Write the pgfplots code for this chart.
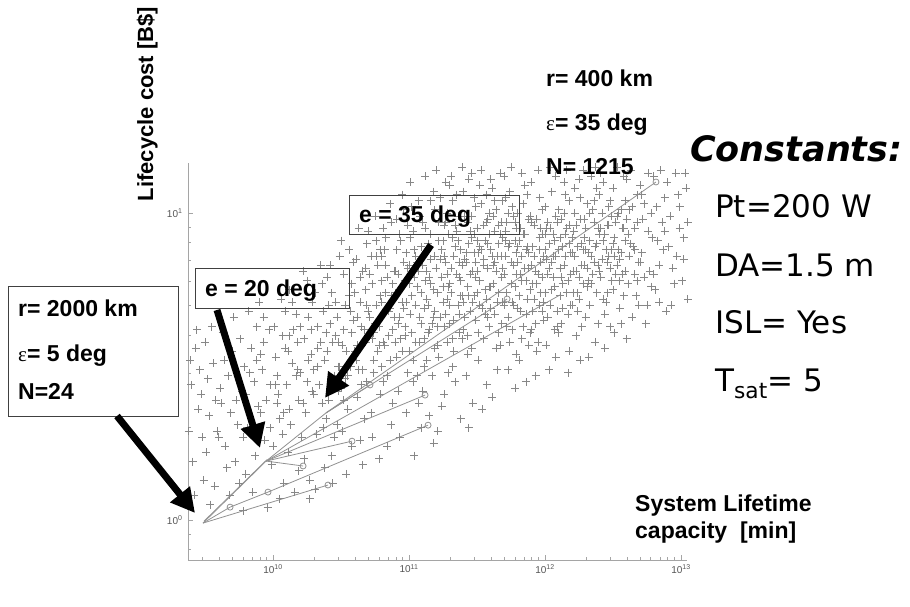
\documentclass[border=0pt]{standalone}
\usepackage{fontspec}
\setmainfont{Liberation Sans}
\newfontfamily\verd{DejaVu Sans}
\newfontfamily\greek{Liberation Serif}
\usepackage{pgfplots}
\usepackage{pgfplotstable}
\pgfplotsset{compat=1.18}
\usetikzlibrary{arrows.meta}

\definecolor{cloud}{RGB}{135,135,135}
\definecolor{fan}{RGB}{145,145,145}
\definecolor{axgray}{RGB}{165,165,165}
\definecolor{ticktxt}{RGB}{85,85,85}

% cloud of designs, stored as log10(capacity) and log10(cost)
\pgfplotstableread[row sep=\\]{
lx ly\\
9.38 0.29\\ 9.42 0.08\\ 9.39 0.52\\ 9.47 0.41\\ 9.41 0.19\\ 9.44 0.62\\ 9.48 0.27\\ 9.45 0.36\\ 9.40 0.44\\ 9.49 0.13\\ 9.43 0.56\\ 9.46 0.49\\
9.53 0.34\\ 9.50 0.58\\ 9.57 0.11\\ 9.52 0.46\\ 9.59 0.29\\ 9.55 0.63\\ 9.51 0.22\\ 9.58 0.39\\ 9.56 0.51\\ 9.54 0.05\\
9.61 0.43\\ 9.66 0.17\\ 9.63 0.61\\ 9.69 0.35\\ 9.60 0.27\\ 9.64 0.52\\ 9.68 0.08\\ 9.62 0.38\\ 9.67 0.47\\ 9.65 0.24\\
9.74 0.31\\ 9.70 0.55\\ 9.78 0.03\\ 9.72 0.19\\ 9.77 0.42\\ 9.71 0.66\\ 9.79 0.50\\ 9.75 0.12\\ 9.73 0.39\\ 9.76 0.59\\ 9.78 0.27\\
9.83 0.48\\ 9.81 0.30\\ 9.88 0.63\\ 9.85 0.09\\ 9.80 0.41\\ 9.87 0.21\\ 9.84 0.56\\ 9.89 0.37\\ 9.82 0.68\\ 9.86 0.45\\ 9.80 0.15\\ 9.88 0.52\\
9.91 0.35\\ 9.96 0.04\\ 9.93 0.58\\ 9.98 0.44\\ 9.90 0.71\\ 9.94 0.26\\ 9.97 0.62\\ 9.92 0.49\\ 9.99 0.18\\ 9.95 0.39\\ 9.91 0.54\\ 9.98 0.30\\ 9.93 0.66\\
10.03 0.47\\ 10.08 0.12\\ 10.01 0.63\\ 10.05 0.33\\ 10.09 0.56\\ 10.00 0.24\\ 10.06 0.72\\ 10.04 0.41\\ 10.07 0.28\\ 10.02 0.53\\ 10.09 0.68\\ 10.05 0.07\\ 10.03 0.38\\ 10.07 0.60\\
10.14 0.51\\ 10.11 0.22\\ 10.17 0.67\\ 10.19 0.39\\ 10.12 0.75\\ 10.16 0.09\\ 10.10 0.44\\ 10.18 0.58\\ 10.13 0.31\\ 10.15 0.62\\ 10.19 0.16\\ 10.11 0.55\\ 10.17 0.47\\ 10.14 0.71\\ 10.12 0.36\\
10.23 0.59\\ 10.27 0.13\\ 10.20 0.48\\ 10.25 0.78\\ 10.29 0.42\\ 10.21 0.27\\ 10.26 0.66\\ 10.24 0.35\\ 10.28 0.54\\ 10.22 0.81\\ 10.27 0.07\\ 10.20 0.63\\ 10.25 0.45\\ 10.29 0.71\\ 10.23 0.20\\ 10.26 0.52\\
10.31 0.74\\ 10.36 0.38\\ 10.33 0.56\\ 10.38 0.17\\ 10.30 0.49\\ 10.35 0.83\\ 10.39 0.61\\ 10.32 0.28\\ 10.37 0.68\\ 10.34 0.44\\ 10.31 0.10\\ 10.38 0.52\\ 10.36 0.77\\ 10.33 0.63\\ 10.39 0.33\\ 10.35 0.58\\ 10.30 0.41\\
10.42 0.64\\ 10.47 0.31\\ 10.40 0.79\\ 10.45 0.47\\ 10.49 0.86\\ 10.43 0.21\\ 10.48 0.58\\ 10.41 0.39\\ 10.46 0.71\\ 10.44 0.12\\ 10.49 0.50\\ 10.42 0.83\\ 10.47 0.66\\ 10.40 0.55\\ 10.45 0.27\\ 10.48 0.42\\ 10.43 0.74\\ 10.46 0.60\\
10.53 0.70\\ 10.58 0.24\\ 10.51 0.57\\ 10.56 0.88\\ 10.50 0.43\\ 10.54 0.15\\ 10.59 0.65\\ 10.52 0.80\\ 10.57 0.50\\ 10.55 0.36\\ 10.50 0.91\\ 10.58 0.61\\ 10.53 0.46\\ 10.56 0.73\\ 10.51 0.29\\ 10.59 0.84\\ 10.54 0.55\\ 10.57 0.68\\ 10.52 0.39\\
10.64 0.79\\ 10.61 0.52\\ 10.67 0.33\\ 10.69 0.90\\ 10.62 0.66\\ 10.66 0.18\\ 10.60 0.74\\ 10.68 0.58\\ 10.63 0.95\\ 10.65 0.44\\ 10.69 0.70\\ 10.61 0.85\\ 10.67 0.62\\ 10.64 0.26\\ 10.60 0.55\\ 10.66 0.81\\ 10.62 0.40\\ 10.68 0.75\\ 10.65 0.63\\ 10.63 0.49\\
10.72 0.86\\ 10.77 0.55\\ 10.70 0.68\\ 10.75 0.99\\ 10.79 0.41\\ 10.73 0.77\\ 10.78 0.20\\ 10.71 0.60\\ 10.76 0.91\\ 10.74 0.48\\ 10.79 0.73\\ 10.72 0.35\\ 10.77 0.83\\ 10.70 0.94\\ 10.75 0.64\\ 10.78 0.57\\ 10.73 0.27\\ 10.76 0.70\\ 10.71 0.80\\ 10.74 0.61\\ 10.79 0.88\\
10.83 0.92\\ 10.88 0.62\\ 10.81 0.45\\ 10.86 1.03\\ 10.80 0.71\\ 10.84 0.24\\ 10.89 0.81\\ 10.82 0.57\\ 10.87 0.97\\ 10.85 0.68\\ 10.80 0.86\\ 10.88 0.38\\ 10.83 0.74\\ 10.86 0.52\\ 10.81 0.95\\ 10.89 0.66\\ 10.84 0.79\\ 10.87 0.31\\ 10.82 0.88\\ 10.85 0.60\\ 10.88 0.77\\ 10.80 0.50\\
10.91 0.98\\ 10.96 0.69\\ 10.93 0.27\\ 10.98 0.87\\ 10.90 0.58\\ 10.95 1.06\\ 10.99 0.48\\ 10.92 0.80\\ 10.97 0.63\\ 10.94 0.91\\ 10.90 0.74\\ 10.98 0.35\\ 10.93 0.66\\ 10.96 0.84\\ 10.91 0.53\\ 10.99 0.96\\ 10.95 0.71\\ 10.92 0.42\\ 10.97 0.78\\ 10.94 0.59\\ 10.99 0.82\\ 10.96 1.01\\ 10.91 0.88\\
11.02 0.73\\ 11.07 1.04\\ 11.00 0.55\\ 11.05 0.86\\ 11.09 0.30\\ 11.03 0.94\\ 11.08 0.66\\ 11.01 1.10\\ 11.06 0.47\\ 11.04 0.79\\ 11.09 0.89\\ 11.02 0.61\\ 11.07 0.38\\ 11.00 0.83\\ 11.05 0.70\\ 11.08 0.99\\ 11.03 0.52\\ 11.06 0.76\\ 11.01 0.92\\ 11.04 0.21\\ 11.09 0.64\\ 11.07 0.81\\ 11.02 1.02\\ 11.05 0.58\\
11.13 0.81\\ 11.18 1.07\\ 11.11 0.59\\ 11.16 0.93\\ 11.10 0.42\\ 11.14 0.70\\ 11.19 0.86\\ 11.12 1.12\\ 11.17 0.64\\ 11.15 0.34\\ 11.10 0.97\\ 11.18 0.75\\ 11.13 0.52\\ 11.16 0.85\\ 11.11 0.69\\ 11.19 1.01\\ 11.14 0.90\\ 11.17 0.47\\ 11.12 0.78\\ 11.15 0.62\\ 11.18 0.25\\ 11.10 0.83\\ 11.16 1.04\\ 11.13 0.72\\ 11.19 0.56\\
11.24 0.88\\ 11.21 0.63\\ 11.27 1.10\\ 11.29 0.76\\ 11.22 0.97\\ 11.26 0.41\\ 11.20 0.82\\ 11.28 0.58\\ 11.23 1.05\\ 11.25 0.71\\ 11.29 0.93\\ 11.21 0.29\\ 11.27 0.67\\ 11.24 0.79\\ 11.20 1.14\\ 11.26 0.86\\ 11.22 0.53\\ 11.28 1.00\\ 11.25 0.91\\ 11.23 0.66\\ 11.29 0.48\\ 11.27 0.84\\ 11.21 0.74\\ 11.26 0.96\\ 11.24 0.37\\ 11.28 0.72\\
11.32 0.92\\ 11.37 0.67\\ 11.30 1.09\\ 11.35 0.80\\ 11.39 1.15\\ 11.33 0.55\\ 11.38 0.88\\ 11.31 0.74\\ 11.36 0.99\\ 11.34 0.45\\ 11.39 0.83\\ 11.32 1.04\\ 11.37 0.61\\ 11.30 0.77\\ 11.35 0.94\\ 11.38 0.33\\ 11.33 0.86\\ 11.36 0.70\\ 11.31 1.12\\ 11.34 0.96\\ 11.39 0.59\\ 11.37 0.79\\ 11.32 0.50\\ 11.35 1.06\\ 11.38 0.73\\ 11.30 0.64\\
11.43 0.97\\ 11.48 0.73\\ 11.41 0.85\\ 11.46 1.13\\ 11.40 0.62\\ 11.44 0.90\\ 11.49 1.02\\ 11.42 0.47\\ 11.47 0.81\\ 11.45 0.68\\ 11.40 1.07\\ 11.48 0.93\\ 11.43 0.76\\ 11.46 0.56\\ 11.41 0.99\\ 11.49 0.65\\ 11.44 1.11\\ 11.47 0.38\\ 11.42 0.87\\ 11.45 0.80\\ 11.48 1.05\\ 11.40 0.71\\ 11.46 0.92\\ 11.43 0.60\\ 11.49 0.84\\ 11.44 0.30\\
11.52 0.89\\ 11.57 1.06\\ 11.50 0.74\\ 11.55 0.96\\ 11.59 0.63\\ 11.53 1.14\\ 11.58 0.82\\ 11.51 0.52\\ 11.56 0.91\\ 11.54 0.69\\ 11.59 1.00\\ 11.52 0.78\\ 11.57 0.44\\ 11.50 0.95\\ 11.55 0.85\\ 11.58 0.66\\ 11.53 1.03\\ 11.56 0.75\\ 11.51 0.87\\ 11.54 0.36\\ 11.59 0.93\\ 11.57 0.72\\ 11.52 1.09\\ 11.55 0.59\\ 11.58 0.98\\ 11.50 0.81\\
11.63 0.94\\ 11.68 0.79\\ 11.61 1.08\\ 11.66 0.61\\ 11.60 0.88\\ 11.64 1.01\\ 11.69 0.71\\ 11.62 0.83\\ 11.67 1.13\\ 11.65 0.49\\ 11.60 0.76\\ 11.68 0.97\\ 11.63 0.67\\ 11.66 0.90\\ 11.61 0.40\\ 11.69 1.04\\ 11.64 0.81\\ 11.67 0.57\\ 11.62 0.99\\ 11.65 0.86\\ 11.68 0.64\\ 11.60 1.11\\ 11.66 0.74\\ 11.63 0.84\\ 11.69 0.92\\
11.71 0.86\\ 11.76 1.02\\ 11.73 0.66\\ 11.78 0.91\\ 11.70 1.12\\ 11.75 0.77\\ 11.79 0.54\\ 11.72 0.97\\ 11.77 0.83\\ 11.74 1.07\\ 11.70 0.70\\ 11.78 0.43\\ 11.73 0.89\\ 11.76 0.62\\ 11.71 0.94\\ 11.79 0.80\\ 11.75 1.15\\ 11.72 0.74\\ 11.77 0.99\\ 11.74 0.58\\ 11.79 0.87\\ 11.76 0.71\\ 11.71 1.05\\ 11.73 0.49\\ 11.78 0.76\\
11.82 0.95\\ 11.87 0.72\\ 11.80 0.84\\ 11.85 1.09\\ 11.89 0.61\\ 11.83 0.78\\ 11.88 0.98\\ 11.81 0.52\\ 11.86 0.88\\ 11.84 1.03\\ 11.80 0.69\\ 11.88 0.82\\ 11.83 1.13\\ 11.86 0.45\\ 11.81 0.91\\ 11.89 0.75\\ 11.84 0.63\\ 11.87 1.06\\ 11.82 0.80\\ 11.85 0.93\\ 11.88 0.57\\ 11.80 1.00\\ 11.86 0.67\\ 11.83 0.86\\
11.93 0.81\\ 11.98 1.01\\ 11.91 0.68\\ 11.96 0.92\\ 11.90 1.10\\ 11.94 0.55\\ 11.99 0.86\\ 11.92 0.96\\ 11.97 0.74\\ 11.95 1.14\\ 11.90 0.62\\ 11.98 0.79\\ 11.93 0.47\\ 11.96 1.05\\ 11.91 0.89\\ 11.99 0.65\\ 11.94 0.98\\ 11.97 0.84\\ 11.92 0.72\\ 11.95 0.58\\ 11.98 0.93\\ 11.90 0.83\\ 11.96 0.70\\
12.02 0.97\\ 12.07 0.76\\ 12.00 0.88\\ 12.05 1.07\\ 12.09 0.63\\ 12.03 0.82\\ 12.08 1.12\\ 12.01 0.57\\ 12.06 0.93\\ 12.04 0.70\\ 12.00 1.02\\ 12.08 0.86\\ 12.03 0.49\\ 12.06 0.79\\ 12.01 0.95\\ 12.09 0.68\\ 12.04 1.15\\ 12.07 0.91\\ 12.02 0.66\\ 12.05 0.84\\ 12.08 0.53\\ 12.00 0.74\\
12.13 0.89\\ 12.18 1.04\\ 12.11 0.73\\ 12.16 0.95\\ 12.10 0.61\\ 12.14 1.10\\ 12.19 0.80\\ 12.12 0.98\\ 12.17 0.67\\ 12.15 0.86\\ 12.10 1.01\\ 12.18 0.55\\ 12.13 0.77\\ 12.16 1.14\\ 12.11 0.92\\ 12.19 0.70\\ 12.14 0.83\\ 12.17 0.48\\ 12.12 0.64\\ 12.15 1.06\\ 12.18 0.90\\
12.22 1.00\\ 12.27 0.83\\ 12.20 0.70\\ 12.25 1.11\\ 12.29 0.92\\ 12.23 0.60\\ 12.28 0.77\\ 12.21 0.94\\ 12.26 1.05\\ 12.24 0.68\\ 12.20 0.87\\ 12.28 1.14\\ 12.23 0.81\\ 12.26 0.52\\ 12.21 0.74\\ 12.29 0.98\\ 12.24 0.89\\ 12.27 0.63\\ 12.22 1.08\\ 12.25 0.79\\
12.33 0.91\\ 12.38 0.74\\ 12.31 1.03\\ 12.36 0.84\\ 12.30 0.66\\ 12.34 1.12\\ 12.39 0.95\\ 12.32 0.78\\ 12.37 0.58\\ 12.35 1.01\\ 12.30 0.88\\ 12.38 1.08\\ 12.33 0.70\\ 12.36 0.97\\ 12.31 0.82\\ 12.39 0.64\\ 12.34 0.86\\ 12.37 1.15\\ 12.32 0.53\\
12.42 0.85\\ 12.47 1.02\\ 12.40 0.93\\ 12.45 0.71\\ 12.49 0.88\\ 12.43 1.10\\ 12.48 0.63\\ 12.41 0.79\\ 12.46 0.96\\ 12.44 0.56\\ 12.40 1.06\\ 12.48 0.82\\ 12.43 0.91\\ 12.46 0.74\\ 12.41 1.13\\ 12.49 0.99\\ 12.44 0.67\\ 12.47 0.86\\
12.52 0.97\\ 12.57 0.80\\ 12.50 1.08\\ 12.55 0.69\\ 12.59 0.91\\ 12.53 0.83\\ 12.58 1.12\\ 12.51 0.61\\ 12.56 1.01\\ 12.54 0.88\\ 12.50 0.75\\ 12.58 0.95\\ 12.53 1.15\\ 12.56 0.64\\ 12.51 0.86\\ 12.59 1.04\\ 12.55 0.78\\
12.63 0.90\\ 12.68 1.06\\ 12.61 0.77\\ 12.66 0.95\\ 12.60 1.11\\ 12.64 0.66\\ 12.69 0.84\\ 12.62 1.01\\ 12.67 0.73\\ 12.65 0.89\\ 12.60 0.59\\ 12.68 0.97\\ 12.63 1.14\\ 12.66 0.80\\ 12.61 0.93\\ 12.69 0.70\\
12.72 0.98\\ 12.77 0.81\\ 12.70 1.09\\ 12.75 0.70\\ 12.79 0.92\\ 12.73 1.03\\ 12.78 0.76\\ 12.71 0.87\\ 12.76 1.13\\ 12.74 0.64\\ 12.70 0.84\\ 12.78 1.00\\ 12.73 0.79\\ 12.76 0.94\\ 12.71 1.06\\
12.83 0.91\\ 12.88 1.05\\ 12.81 0.75\\ 12.86 0.97\\ 12.80 1.12\\ 12.84 0.83\\ 12.89 0.68\\ 12.82 1.02\\ 12.87 0.88\\ 12.85 1.14\\ 12.80 0.80\\ 12.88 0.94\\ 12.84 0.71\\
12.92 0.99\\ 12.97 0.86\\ 12.90 1.10\\ 12.95 0.77\\ 12.99 0.95\\ 12.93 0.70\\ 12.98 1.06\\ 12.91 0.89\\ 12.96 1.13\\ 12.94 0.82\\ 12.99 1.02\\
13.02 0.92\\ 13.04 1.08\\ 13.01 0.78\\ 13.05 0.97\\ 13.03 1.13\\ 13.02 0.85\\ 13.05 0.72\\
}\cloud

% the denser core of the cloud
\pgfplotstableread[row sep=\\]{
lx ly\\
10.62 0.57\\ 10.66 0.49\\ 10.71 0.66\\ 10.69 0.45\\ 10.74 0.52\\ 10.78 0.63\\ 10.81 0.58\\ 10.84 0.47\\ 10.87 0.73\\ 10.92 0.64\\ 10.95 0.55\\ 10.98 0.71\\
11.01 0.67\\ 11.03 0.45\\ 11.06 0.84\\ 11.09 0.74\\ 11.11 0.50\\ 11.14 0.61\\ 11.16 0.77\\ 11.19 0.68\\ 11.21 0.57\\ 11.23 0.85\\ 11.26 0.63\\ 11.28 0.80\\
11.30 0.70\\ 11.32 0.59\\ 11.34 0.89\\ 11.37 0.84\\ 11.39 0.73\\ 11.41 0.66\\ 11.43 0.54\\ 11.45 0.94\\ 11.47 0.71\\ 11.49 0.79\\ 11.51 0.61\\ 11.53 0.88\\
11.56 0.67\\ 11.58 0.90\\ 11.60 0.69\\ 11.62 0.77\\ 11.64 0.56\\ 11.66 0.96\\ 11.68 0.86\\ 11.70 0.80\\ 11.72 0.63\\ 11.74 0.90\\ 11.77 0.70\\ 11.79 0.95\\
11.81 0.73\\ 11.83 0.59\\ 11.85 0.82\\ 11.87 0.89\\ 11.89 0.99\\ 11.91 0.77\\ 11.93 0.64\\ 11.95 0.80\\ 11.97 0.95\\ 11.99 0.71\\ 12.01 0.85\\ 12.03 0.90\\
12.05 0.75\\ 12.07 0.62\\ 12.09 0.97\\ 12.11 0.82\\ 12.13 0.69\\ 12.15 0.93\\ 12.17 0.78\\ 12.19 0.87\\ 12.21 0.81\\ 12.23 0.96\\ 12.25 0.72\\ 12.27 0.90\\
12.29 0.83\\ 12.31 0.76\\ 12.33 1.00\\ 12.35 0.80\\ 12.37 0.89\\ 12.39 0.83\\ 12.41 0.95\\ 12.43 0.72\\ 12.45 0.88\\ 12.47 0.96\\ 12.49 0.78\\ 12.51 0.92\\
12.53 0.99\\ 12.55 0.85\\ 12.57 0.95\\ 12.59 0.81\\
10.64 0.71\\ 10.68 0.82\\ 10.73 0.59\\ 10.76 0.86\\ 10.80 0.78\\ 10.83 0.83\\ 10.86 0.69\\ 10.90 0.81\\ 10.93 0.93\\ 10.97 0.60\\ 11.00 0.77\\ 11.04 0.88\\
11.08 0.58\\ 11.12 0.95\\ 11.15 0.79\\ 11.18 0.66\\ 11.22 0.91\\ 11.25 0.76\\ 11.27 0.97\\ 11.31 0.82\\ 11.33 0.65\\ 11.36 0.91\\ 11.38 0.78\\ 11.42 0.84\\
11.44 0.73\\ 11.46 0.99\\ 11.48 0.87\\ 11.50 0.91\\ 11.52 0.70\\ 11.55 0.83\\ 11.57 0.97\\ 11.59 0.76\\ 11.61 0.86\\ 11.63 1.04\\ 11.65 0.71\\ 11.67 0.93\\
11.69 0.82\\ 11.71 0.91\\ 11.73 1.00\\ 11.75 0.84\\ 11.78 0.97\\ 11.80 0.89\\ 11.82 0.68\\ 11.84 0.93\\ 11.86 0.78\\ 11.88 0.87\\ 11.90 0.97\\ 11.92 0.86\\
11.94 0.77\\ 11.96 0.88\\ 11.98 0.68\\ 12.00 0.93\\ 12.02 0.80\\ 12.04 0.95\\ 12.06 0.86\\ 12.08 0.99\\ 12.10 0.88\\ 12.12 0.79\\ 12.14 1.00\\ 12.16 0.74\\
12.18 0.96\\ 12.20 0.92\\ 12.22 0.86\\ 12.24 0.74\\ 12.26 0.98\\ 12.28 0.88\\ 12.30 0.95\\ 12.32 0.87\\ 12.34 0.77\\ 12.36 1.04\\ 12.38 0.90\\ 12.40 0.81\\
12.42 1.00\\ 12.44 0.93\\ 12.46 0.84\\ 12.48 1.04\\ 12.50 0.90\\ 12.52 0.80\\ 12.54 1.00\\ 12.56 0.87\\ 12.58 0.73\\ 12.60 0.98\\ 12.62 0.86\\ 12.64 1.02\\
12.66 0.88\\ 12.68 0.78\\
10.02 0.44\\ 10.08 0.35\\ 10.12 0.60\\ 10.18 0.49\\ 10.22 0.38\\ 10.28 0.62\\ 10.33 0.50\\ 10.37 0.30\\ 10.41 0.70\\ 10.44 0.58\\ 10.48 0.50\\ 10.52 0.62\\
10.55 0.47\\ 10.58 0.77\\
}\cloudcore

\pgfkeys{/pgfplots/table/lg/.style={/pgfplots/table/x expr=10^(\thisrow{lx}), /pgfplots/table/y expr=10^(\thisrow{ly})}}

\newcommand{\bfs}{\fontsize{23}{27}\selectfont\bfseries}
\newcommand{\eps}{{\greek\mdseries\fontsize{21}{27}\selectfont ε}}

\begin{document}
\begin{tikzpicture}[x=1pt,y=1pt]
\useasboundingbox (0,0) rectangle (910,607);
\begin{axis}[
  at={(188pt,47pt)}, anchor=south west,
  scale only axis, width=499pt, height=397pt,
  xmode=log, ymode=log,
  xmin=2.37e9, xmax=1.107e13, ymin=0.741, ymax=14.55,
  axis x line=bottom, axis y line=left,
  axis line style={-, draw=axgray, line width=0.9pt},
  tick style={draw=axgray, line width=0.7pt},
  tick align=inside,
  major tick length=5pt, minor tick length=3pt,
  xtick={1e10,1e11,1e12,1e13},
  xticklabels={10\textsuperscript{10},10\textsuperscript{11},10\textsuperscript{12},10\textsuperscript{13}},
  minor xtick={3e9,4e9,5e9,6e9,7e9,8e9,9e9,2e10,3e10,4e10,5e10,6e10,7e10,8e10,9e10,2e11,3e11,4e11,5e11,6e11,7e11,8e11,9e11,2e12,3e12,4e12,5e12,6e12,7e12,8e12,9e12},
  ytick={1,10},
  yticklabels={10\textsuperscript{0},10\textsuperscript{1}},
  minor ytick={0.8,0.9,2,3,4,5,6,7,8,9},
  ticklabel style={font=\fontsize{10}{12}\selectfont, text=ticktxt},
  xticklabel style={yshift=-1pt},
  yticklabel style={xshift=-2pt},
  clip=false,
]
\addplot[only marks, mark=+, mark size=4pt, color=cloud, line width=0.9pt] table[lg]{\cloud};
\addplot[only marks, mark=+, mark size=4pt, color=cloud, line width=0.9pt] table[lg]{\cloudcore};

% fan of constellation paths
\addplot[fan, line width=0.8pt, no marks] table[lg, row sep=\\]{lx ly\\ 9.485 -0.010\\ 9.949 0.192\\};
\addplot[fan, line width=0.8pt, no marks] table[lg, row sep=\\]{lx ly\\ 9.492 -0.004\\ 9.956 0.197\\};
\addplot[fan, line width=0.8pt, no marks] table[lg, row sep=\\]{lx ly\\ 9.485 -0.010\\ 9.684 0.042\\ 9.963 0.091\\ 11.140 0.309\\};
\addplot[fan, line width=0.8pt, no marks] table[lg, row sep=\\]{lx ly\\ 9.485 -0.010\\ 10.404 0.114\\};
\addplot[fan, line width=0.8pt, no marks] table[lg, row sep=\\]{lx ly\\ 9.949 0.192\\ 10.221 0.176\\};
\addplot[fan, line width=0.8pt, no marks] table[lg, row sep=\\]{lx ly\\ 9.949 0.192\\ 10.581 0.257\\};
\addplot[fan, line width=0.8pt, no marks] table[lg, row sep=\\]{lx ly\\ 9.949 0.192\\ 11.118 0.407\\};
\addplot[fan, line width=0.8pt, no marks] table[lg, row sep=\\]{lx ly\\ 9.949 0.192\\ 12.110 0.733\\};
\addplot[fan, line width=0.8pt, no marks] table[lg, row sep=\\]{lx ly\\ 9.949 0.192\\ 10.390 0.349\\};
\addplot[fan, line width=0.8pt, no marks] table[lg, row sep=\\]{lx ly\\ 10.390 0.349\\ 12.816 1.101\\};
\addplot[fan, line width=0.8pt, no marks] table[lg, row sep=\\]{lx ly\\ 10.390 0.349\\ 11.721 0.720\\};
\addplot[fan, line width=0.8pt, no marks] table[lg, row sep=\\]{lx ly\\ 10.390 0.349\\ 10.713 0.440\\};
\addplot[only marks, mark=o, mark size=3pt, fan, line width=0.8pt] table[lg, row sep=\\]{lx ly\\
9.684 0.042\\ 9.963 0.091\\ 11.140 0.309\\ 10.404 0.114\\ 10.221 0.176\\ 10.581 0.257\\ 11.118 0.407\\ 12.816 1.101\\ 11.721 0.720\\ 10.713 0.440\\};
\end{axis}

% y label
\node[anchor=base, rotate=90, inner sep=0pt, font=\fontsize{22}{26}\selectfont\bfseries] at (153,503) {Lifecycle cost [B\$]};

% left annotation box
\draw[line width=0.8pt, draw=black!75] (8,191) rectangle (178,321);
\node[anchor=base west, inner sep=0pt, font=\bfs] at (18,290) {r= 2000 km};
\node[anchor=base west, inner sep=0pt, font=\bfs] at (18,245) {\eps= 5 deg};
\node[anchor=base west, inner sep=0pt, font=\bfs] at (18,207) {N=24};

% elevation boxes
\draw[line width=0.8pt, draw=black!75] (195,299) rectangle (349,339);
\node[anchor=base west, inner sep=0pt, font=\bfs] at (205,310) {e = 20 deg};
\draw[line width=0.8pt, draw=black!75] (349,373) rectangle (519,412);
\node[anchor=base west, inner sep=0pt, font=\bfs] at (359,384) {e = 35 deg};

% arrows
\draw[line width=7pt, -{Triangle[length=24pt,width=24pt]}] (117,191) -- (195,94);
\draw[line width=7pt, -{Triangle[length=24pt,width=24pt]}] (217,297) -- (260,159);
\draw[line width=7pt, -{Triangle[length=24pt,width=24pt]}] (431,362) -- (325,209);

% top right annotation
\node[anchor=base west, inner sep=0pt, font=\bfs] at (546,520) {r= 400 km};
\node[anchor=base west, inner sep=0pt, font=\bfs] at (546,476) {\eps= 35 deg};
\node[anchor=base west, inner sep=0pt, font=\bfs] at (546,432) {N= 1215};

% constants
\node[anchor=base west, inner sep=0pt, font=\verd\bfseries\itshape\fontsize{35}{38}\selectfont] at (690,445) {Constants:};
\node[anchor=base west, inner sep=0pt, font=\verd\fontsize{31}{36}\selectfont] at (715,389) {Pt=200 W};
\node[anchor=base west, inner sep=0pt, font=\verd\fontsize{31}{36}\selectfont] at (715,330) {DA=1.5 m};
\node[anchor=base west, inner sep=0pt, font=\verd\fontsize{31}{36}\selectfont] at (715,273) {ISL= Yes};
\node[anchor=base west, inner sep=0pt, font=\verd\fontsize{31}{36}\selectfont] at (715,215) {T\textsubscript{sat}= 5};

% x label
\node[anchor=base west, inner sep=0pt, font=\bfs] at (635,95) {System Lifetime};
\node[anchor=base west, inner sep=0pt, font=\bfs] at (635,68) {capacity\ \ [min]};
\end{tikzpicture}
\end{document}
